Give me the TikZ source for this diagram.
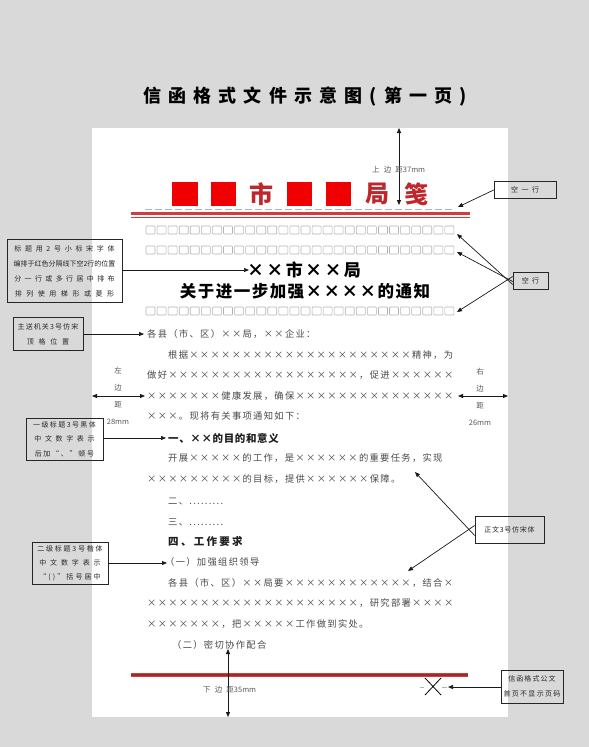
\documentclass[tikz,border=0pt]{standalone}
\usepackage{fontspec}
\setmainfont{Noto Sans CJK SC}
\usetikzlibrary{arrows.meta}
\definecolor{bggray}{HTML}{D9D9D9}
\definecolor{hdsq}{HTML}{F00000}
\definecolor{hdchar}{HTML}{C0272D}
\definecolor{redline}{HTML}{D23C3C}
\definecolor{redcore}{HTML}{9E2A2A}
\definecolor{bodygray}{HTML}{4A4A4A}
\definecolor{boxgray}{HTML}{B4B4B4}
\newcommand{\fs}[2]{\fontsize{#1}{#1}\selectfont\addfontfeature{LetterSpace=#2}}
\newcommand{\ls}[1]{\addfontfeature{LetterSpace=#1}}
\begin{document}
\begin{tikzpicture}[x=1pt,y=-1pt,
  arr/.style={-{Triangle[length=5pt,width=4pt]}, line width=0.7pt, draw=black!90},
  dimarr/.style={{Triangle[length=5pt,width=4pt]}-{Triangle[length=5pt,width=4pt]}, line width=0.8pt, draw=black!90},
  body/.style={anchor=west, inner sep=0pt, text=bodygray, font={\fs{9.3}{14}}},
  headA/.style={anchor=west, inner sep=0pt, text=black!88, font={\bfseries\fs{10.5}{6}}},
  note/.style={draw=black!85, line width=0.7pt, align=center, inner sep=0pt, text=black!85},
  mlabel/.style={inner sep=0pt, text=black!65, font={\fontsize{7.5}{17}\selectfont}, align=center},
  hdsqr/.style={fill=hdsq},
  hdtxt/.style={inner sep=0pt, text=hdchar, font={\bfseries\fontsize{24}{24}\selectfont}},
  boxrow/.style={draw=boxgray, line width=0.6pt, rounded corners=0.8pt}
]
\useasboundingbox (0,0) rectangle (589,747);
\fill[bggray] (0,0) rectangle (589,747);
\fill[white] (92,128) rectangle (508,717);

% title
\node[inner sep=0pt, font={\bfseries\fs{18}{40}}] (title) at (305,97) {信函格式文件示意图(第一页)};

% top margin
\coordinate (pgtop) at (399,128);
\coordinate (hdbot) at (399,205);
\draw[dimarr] (pgtop) -- (hdbot);
\node[mlabel, anchor=west, font={\fs{7.5}{55}}] (toplbl) at (372,170) {上边距\ls{0} 37mm};

% header
\fill[hdsqr] (172,182) rectangle (198,206);
\fill[hdsqr] (211,182) rectangle (236,206);
\fill[hdsqr] (287,182) rectangle (312,206);
\fill[hdsqr] (326,182) rectangle (351,206);
\node[hdtxt] (shi) at (261,194) {市};
\node[hdtxt] (ju) at (377,194) {局};
\node[hdtxt] (jian) at (416,194) {笺};

\draw[boxgray, line width=0.8pt, dash pattern=on 7pt off 3pt] (145,209.5) -- (455,209.5);
\draw[redline, line width=2.5pt] (131,213.5) -- (470,213.5);
\draw[redline, line width=1pt] (131,217.5) -- (470,217.5);

% box rows
\foreach \yy in {230,250,311}{
  \foreach \i in {0,...,27}{
    \draw[boxrow] ({146+\i*11.07},{\yy-4}) rectangle ++(9,8);
  }
}

% document title
\node[inner sep=0pt, font={\bfseries\fs{17}{14}}] (doct1) at (304,270) {××市××局};
\node[inner sep=0pt, font={\bfseries\fs{16.5}{9}}] (doct2) at (305,291) {关于进一步加强××××的通知};

% body text
\node[body] (l1) at (147,334) {各县（市、区）××局，××企业：};
\node[body] (l2) at (168,355) {根据×××××××××××××××××××××精神，为};
\node[body] (l3) at (147,375) {做好××××××××××××××××××，促进××××××};
\node[body] (l4) at (147,396) {×××××××健康发展，确保×××××××××××××××};
\node[body] (l5) at (147,416) {×××。现将有关事项通知如下：};
\node[headA] (h1) at (168,438) {一、××的目的和意义};
\node[body] (l6) at (168,458) {开展×××××的工作，是××××××的重要任务，实现};
\node[body] (l7) at (147,479) {×××××××××的目标，提供××××××保障。};
\node[body] (h2) at (168,502) {二、.........};
\node[body] (h3) at (168,522) {三、.........};
\node[anchor=west, inner sep=0pt, text=black!88, font={\bfseries\fs{10.5}{22}}] (h4) at (168,541) {四、工作要求};
\node[body] (s1) at (165,562) {（一）加强组织领导};
\node[body] (l8) at (168,583) {各县（市、区）××局要××××××××××××，结合×};
\node[body] (l9) at (147,603) {××××××××××××××××××××，研究部署××××};
\node[body] (l10) at (147,624) {×××××××，把×××××工作做到实处。};
\node[body] (s2) at (172,645) {（二）密切协作配合};

% bottom
\draw[redline, line width=4pt] (131,675) -- (468,675);
\draw[redcore, line width=1.3pt] (131,675) -- (468,675);
\coordinate (botT) at (228,649);
\coordinate (botB) at (228,717);
\draw[dimarr] (botT) -- (botB);
\node[mlabel, anchor=west, font={\fs{7.5}{55}}] (botlbl) at (203,690) {下边距\ls{0} 35mm};

\draw[gray!60, line width=0.5pt] (420,687) -- (424,687);
\draw[gray!60, line width=0.5pt] (442,687) -- (447,687);
\draw[line width=0.8pt] (425,678) -- (441,695);
\draw[line width=0.8pt] (425,695) -- (441,678);
\coordinate (xmark) at (448,687);

% left / right margins
\coordinate (pgL) at (92,396);
\coordinate (txL) at (145,396);
\draw[dimarr] (pgL) -- (txL);
\node[mlabel] (llbl) at (118,396) {左\\边\\距\\28mm};
\coordinate (txR) at (458,396);
\coordinate (pgR) at (508,396);
\draw[dimarr] (txR) -- (pgR);
\node[mlabel] (rlbl) at (480,397) {右\\边\\距\\26mm};

% annotation boxes
\node[note, minimum width=115pt, minimum height=63pt, font={\fontsize{7}{15}\selectfont}] (n1) at (64.5,271)
  {{\ls{53}标题用2号小标宋字体}\\{\ls{0}编排于红色分隔线下空2行的位置}\\{\ls{48}分一行或多行居中排布}\\{\ls{65}排列使用梯形或菱形}};
\coordinate (n1t) at (249,270);
\draw[arr] (n1.east |- n1t) -- (n1t);

\node[note, minimum width=70pt, minimum height=33pt, font={\fontsize{7}{15}\selectfont}] (n2) at (48,334)
  {{\ls{16}主送机关3号仿宋}\\{\ls{68}顶格位置}};
\coordinate (n2t) at (144,334);
\draw[arr] (n2.east |- n2t) -- (n2t);

\node[note, minimum width=77pt, minimum height=42pt, font={\fontsize{7}{14.5}\selectfont}] (n3) at (64.5,439)
  {{\ls{20}一级标题3号黑体}\\{\ls{52}中文数字表示}\\{\ls{25}后加“、”顿号}};
\coordinate (n3t) at (166,438);
\draw[arr] (n3.east |- n3t) -- (n3t);

\node[note, minimum width=76pt, minimum height=42pt, font={\fontsize{7}{14}\selectfont}] (n4) at (70,563)
  {{\ls{25}二级标题3号楷体}\\{\ls{55}中文数字表示}\\{\ls{30}“()”括号居中}};
\coordinate (n4t) at (167,563);
\draw[arr] (n4.east |- n4t) -- (n4t);

\node[note, minimum width=69pt, minimum height=27pt, font={\fontsize{7}{14}\selectfont}] (n5) at (509.5,529.5)
  {{\ls{10}正文3号仿宋体}};
\coordinate (n5a) at (415,472);
\coordinate (n5b) at (408,571);
\draw[arr] ([yshift=-6pt]n5.west) -- (n5a);
\draw[arr] ([yshift=4pt]n5.west) -- (n5b);

\node[note, minimum width=62pt, minimum height=17pt, font={\fontsize{7}{14}\selectfont}] (n6) at (525,190)
  {{\ls{50}空一行}};
\coordinate (n6t) at (458,207);
\draw[arr] (n6.west) -- (n6t);

\node[note, minimum width=35pt, minimum height=17pt, font={\fontsize{7}{14}\selectfont}] (n7) at (530.5,280.5)
  {{\ls{45}空行}};
\coordinate (r1) at (457,234);
\coordinate (r2) at (457,252);
\coordinate (r3) at (457,312);
\draw[arr] ([yshift=-4pt]n7.west) -- (r1);
\draw[arr] ([yshift=-1pt]n7.west) -- (r2);
\draw[arr] ([yshift=4pt]n7.west) -- (r3);

\node[note, minimum width=62pt, minimum height=33pt, font={\fontsize{7}{15}\selectfont}] (n8) at (532,686.5)
  {{\ls{15}信函格式公文}\\{\ls{18}首页不显示页码}};
\draw[arr] (n8.west |- xmark) -- (xmark);
\end{tikzpicture}
\end{document}
